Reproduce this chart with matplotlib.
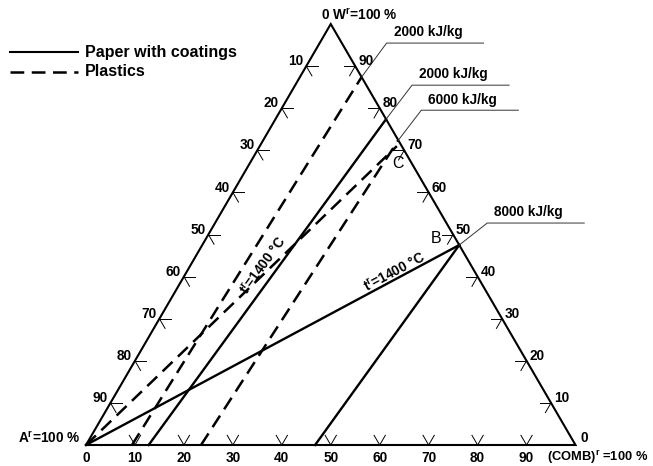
import matplotlib.pyplot as plt
import numpy as np

# ternary data: (COMB)^r and W^r in %, A^r = 100 - COMB - W
paper_start_comb = [0, 12.8, 46.8]
paper_start_w = [0, 0, 0]
paper_end_comb = [52.5, 22.6, 52.5]
paper_end_w = [47.5, 77.4, 47.5]

plastics_start_comb = [0, 9.4, 23.5]
plastics_start_w = [0, 0, 0]
plastics_end_comb = [28.0, 12.6, 27.6]
plastics_end_w = [71.0, 87.4, 72.4]

# heating value labels on the W side
hv_labels = ['2000 kJ/kg', '2000 kJ/kg', '6000 kJ/kg', '8000 kJ/kg']
hv_comb = [12.6, 22.6, 27.6, 52.5]
hv_w = [87.4, 77.4, 72.4, 47.5]

tick_values = [10, 20, 30, 40, 50, 60, 70, 80, 90]
point_names = ['B', 'C']
point_comb = [52.5, 28.0]
point_w = [47.5, 71.0]

SX = 4.895   # px per unit along x
SY = 4.861   # px per unit along y
H = np.sqrt(3) / 2


def tern(comb, w):
    comb = np.asarray(comb, float)
    w = np.asarray(w, float)
    return comb + w / 2, w * H


fig = plt.figure(figsize=(6.53, 4.66), dpi=100)
ax = fig.add_axes([0, 0, 1, 1])
ax.set_xlim(-86 / SX, (653 - 86) / SX)
ax.set_ylim((445 - 466) / SY, 445 / SY)
ax.axis('off')

font = dict(family='Liberation Sans', weight='bold', color='black')

# triangle
tx, ty = tern([0, 100, 0, 0], [0, 0, 100, 0])
ax.plot(tx, ty, color='black', lw=1.5, solid_joinstyle='miter')

# tick marks
L = 2.3
c60, s60 = 0.5, H
for v in tick_values:
    # left side: A = v, W = 100 - v
    x, y = tern(0, 100 - v)
    ax.plot([x, x + L], [y, y], color='black', lw=0.7)
    ax.plot([x, x + L * c60], [y, y - L * s60], color='black', lw=0.7)
    ax.text(x - 0.6, y + 1.0, str(v), ha='right', va='center', fontsize=9.8, **font)
    # right side: W = v
    x, y = tern(100 - v, v)
    ax.plot([x, x - L], [y, y], color='black', lw=0.7)
    ax.plot([x, x - L * c60], [y, y - L * s60], color='black', lw=0.7)
    ax.text(x + 0.6, y + 1.0, str(v), ha='left', va='center', fontsize=9.8, **font)
    # bottom: COMB = v
    x, y = tern(v, 0)
    ax.plot([x - L * c60, x, x + L * c60], [y + L * s60, y, y + L * s60], color='black', lw=0.7)
    ax.text(x, y - 2.6, str(v), ha='center', va='center', fontsize=9.8, **font)

x, y = tern(0, 0)
ax.text(x, y - 2.6, '0', ha='center', va='center', fontsize=9.8, **font)
ax.text(x - 1.2, y + 1.5, r'A$^\mathregular{r}$=100 %', ha='right', va='center', fontsize=9.8, **font)
x, y = tern(100, 0)
ax.text(x + 1.0, y + 1.5, '0', ha='left', va='center', fontsize=9.8, **font)
ax.text(x - 5.8, y - 2.6, r'(COMB)$^\mathregular{r}$ =100 %', ha='left', va='center', fontsize=9.3, **font)
x, y = tern(0, 100)
ax.text(x - 2.0, y + 1.9, r'0 W$^\mathregular{r}$=100 %', ha='left', va='center', fontsize=9.8, **font)

# paper with coatings
for c0, w0, c1, w1 in zip(paper_start_comb, paper_start_w, paper_end_comb, paper_end_w):
    x, y = tern([c0, c1], [w0, w1])
    ax.plot(x, y, color='black', lw=1.7)

# plastics
for c0, w0, c1, w1 in zip(plastics_start_comb, plastics_start_w, plastics_end_comb, plastics_end_w):
    x, y = tern([c0, c1], [w0, w1])
    ax.plot(x, y, color='black', lw=1.8, dashes=(5.5, 3.0))

# leader lines with heating values
knee_px = [(25, 34), (26, 34), (23, 30), (28, 22)]
for lab, c, w, (dx, dy) in zip(hv_labels, hv_comb, hv_w, knee_px):
    x, y = tern(c, w)
    kx, ky = x + dx / SX, y + dy / SY
    ax.plot([x, kx, kx + 97 / SX], [y, ky, ky], color='#333333', lw=0.7)
    ax.text(kx + 7 / SX, ky + 2.2, lab, ha='left', va='center', fontsize=9.8, **font)

# points B and C
bx, by = tern(point_comb[0], point_w[0])
ax.text(bx - 4.8, by + 1.4, point_names[0], ha='center', va='center', fontsize=11.5,
        family='Liberation Sans', color='black')
cx, cy = tern(point_comb[1], point_w[1])
ax.text(cx + 0.2, cy - 3.5, point_names[1], ha='center', va='center', fontsize=11.5,
        family='Liberation Sans', color='black')

# temperature labels
ax.text(63.0, 35.5, r't$^\mathregular{r}$=1400 °C', rotation=28, ha='center', va='center',
        fontsize=9.8, **font)
ax.text(36.2, 37.0, r't$^\mathregular{r}$=1400 °C', rotation=54, ha='center', va='center',
        fontsize=9.8, **font)

# legend
ax.plot(np.array([10, 78]) / SX - 86 / SX, [(445 - 52) / SY] * 2, color='black', lw=1.5)
ax.plot(np.array([10, 78]) / SX - 86 / SX, [(445 - 72) / SY] * 2, color='black', lw=1.8, dashes=(5.5, 3.0))
ax.text((85 - 86) / SX, (445 - 52) / SY, 'Paper with coatings', ha='left', va='center', fontsize=11.5, **font)
ax.text((85 - 86) / SX, (445 - 72) / SY, 'Plastics', ha='left', va='center', fontsize=11.5, **font)

fig.savefig('out.png', dpi=100)
